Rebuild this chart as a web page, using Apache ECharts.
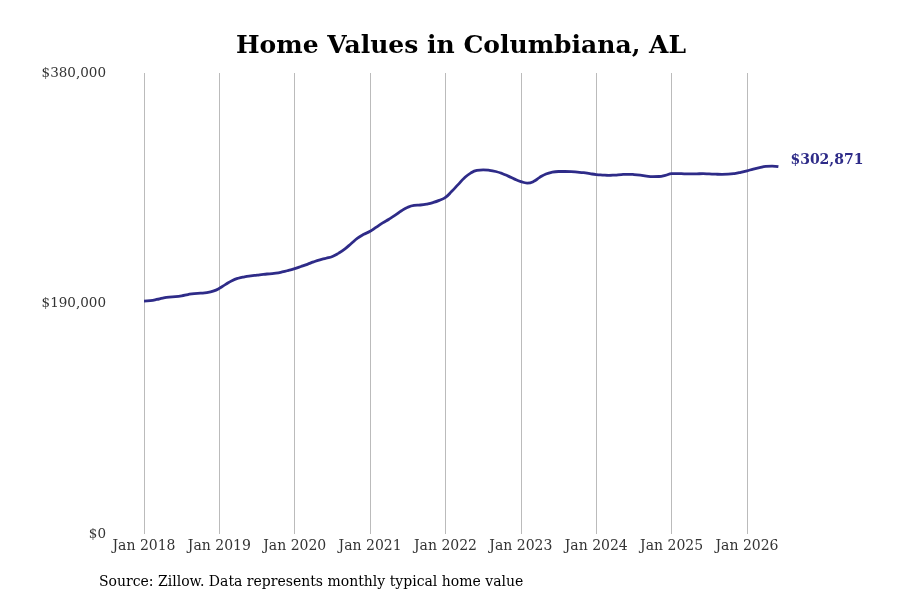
<!DOCTYPE html>
<html>
<head>
<meta charset="utf-8">
<script src="https://cdn.jsdelivr.net/npm/echarts@6/dist/echarts.min.js"></script>
<style>
  html, body { margin: 0; padding: 0; background: #fff; }
  #chart { width: 900px; height: 600px; }
</style>
</head>
<body>
<div id="chart"></div>
<script>
// monthly typical home value, Jan 2018 - Jun 2026
const years = [2018, 2019, 2020, 2021, 2022, 2023, 2024, 2025, 2026]
const monthNames = ['Jan', 'Feb', 'Mar', 'Apr', 'May', 'Jun', 'Jul', 'Aug', 'Sep', 'Oct', 'Nov', 'Dec']

const values2018 = [192000, 192400, 193300, 194500, 195300, 195600, 196300, 197400, 198200, 198500, 199000, 200200]
const values2019 = [202500, 205800, 208800, 210800, 212000, 212800, 213400, 214000, 214500, 215000, 216000, 217300]
const values2020 = [218800, 220500, 222300, 224300, 226000, 227300, 228800, 231500, 235000, 239500, 243800, 247000]
const values2021 = [249500, 253000, 256500, 259500, 262800, 266500, 269300, 270800, 271200, 272000, 273200, 275000]
const values2022 = [277500, 282500, 288000, 293500, 297500, 299700, 300200, 299800, 298800, 297200, 295000, 292500]
const values2023 = [290500, 289300, 290500, 294000, 296800, 298300, 298800, 298800, 298700, 298300, 297800, 297000]
const values2024 = [296300, 295900, 295600, 295900, 296300, 296500, 296300, 295800, 295000, 294600, 294700, 295600]
const values2025 = [297000, 297100, 296900, 296800, 296900, 297000, 296800, 296600, 296500, 296600, 297100, 298100]
const values2026 = [299400, 300800, 302000, 303000, 303300, 302871]

const yTicks = [0, 190000, 380000]

const homeValues = [].concat(values2018, values2019, values2020, values2021, values2022,
    values2023, values2024, values2025, values2026)

const categories = []
for (let i = 0; i < homeValues.length; i++) {
    categories.push(monthNames[i % 12] + ' ' + years[Math.floor(i / 12)])
}

function money(v) {
    return '$' + v.toLocaleString('en-US')
}

const chart = echarts.init(document.getElementById('chart'))
const serif = 'DejaVu Serif'

chart.setOption({
    animation: false,
    title: {
        text: 'Home Values in Columbiana, AL',
        top: 29,
        left: 456,
        textAlign: 'center',
        textStyle: { fontFamily: serif, fontSize: 25, fontWeight: 'bold', color: '#000' }
    },
    graphic: [{
        type: 'text',
        left: 99,
        top: 575,
        style: {
            text: 'Source: Zillow. Data represents monthly typical home value',
            font: '14px "DejaVu Serif"',
            fill: '#000'
        }
    }],
    grid: { left: 144, right: 121.6, top: 73, bottom: 66 },
    xAxis: {
        type: 'category',
        boundaryGap: false,
        data: categories,
        axisLine: { show: false },
        axisTick: { show: false },
        axisLabel: {
            interval: (i) => i % 12 === 0,
            fontFamily: serif,
            fontSize: 14,
            color: '#333',
            margin: 5
        },
        splitLine: {
            show: true,
            interval: (i) => i % 12 === 0,
            lineStyle: { color: '#bbbbbb', width: 1 }
        }
    },
    yAxis: {
        type: 'value',
        min: yTicks[0],
        max: yTicks[2],
        interval: yTicks[1],
        axisLine: { show: false },
        axisTick: { show: false },
        splitLine: { show: false },
        axisLabel: {
            formatter: money,
            fontFamily: serif,
            fontSize: 13.5,
            color: '#333',
            margin: 38,
            verticalAlign: 'middle',
            padding: [2, 0, 0, 0]
        }
    },
    series: [{
        type: 'line',
        data: homeValues,
        smooth: true,
        showSymbol: false,
        lineStyle: { color: '#2e2b88', width: 2.8 },
        itemStyle: { color: '#2e2b88' },
        endLabel: {
            show: true,
            formatter: (p) => money(p.value),
            fontFamily: serif,
            fontSize: 14,
            fontWeight: 'bold',
            color: '#2e2b88',
            distance: 12,
            offset: [0, -6]
        }
    }]
})
</script>
</body>
</html>
